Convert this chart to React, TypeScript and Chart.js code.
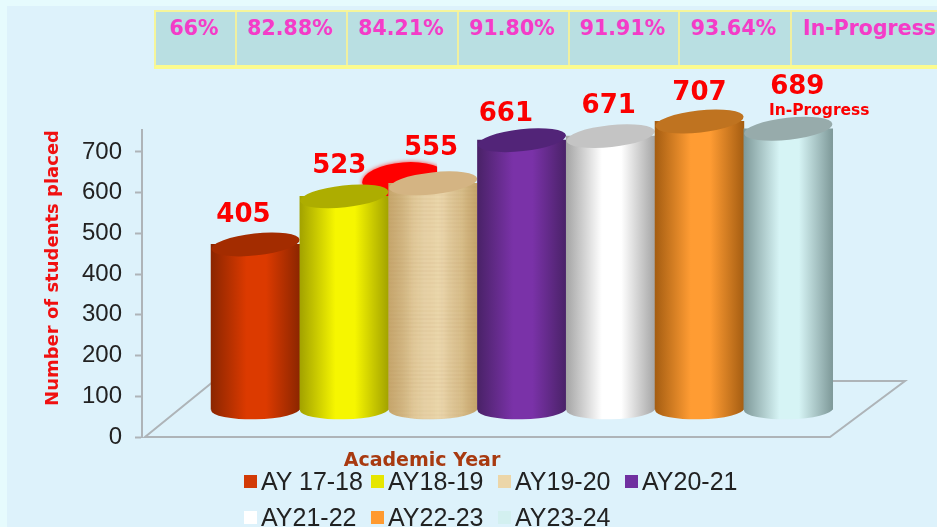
import React, { useEffect, useRef } from "react";
import Chart from "chart.js/auto";

const years = ["AY 17-18", "AY18-19", "AY19-20", "AY20-21", "AY21-22", "AY22-23", "AY23-24"];
const students = [405, 523, 555, 661, 671, 707, 689];
const placementRates = ["66%", "82.88%", "84.21%", "91.80%", "91.91%", "93.64%", "In-Progress"];
const yTicks = [0, 100, 200, 300, 400, 500, 600, 700];
const inProgressNote = "In-Progress";

const swatches = ["#d23a06", "#e6e600", "#ecd6a8", "#7030a0", "#ffffff", "#ff9a30", "#d3f0f0"];
const edgeShades = ["#8c2600", "#a3a300", "#c9a96f", "#4a2268", "#a6a6a6", "#a65e12", "#7f9a9a"];
const midShades = ["#dc3a00", "#f6f600", "#edd9ae", "#7a32a8", "#ffffff", "#ff9c33", "#d6f4f5"];
const capShades = ["#a32c00", "#adad00", "#d4b483", "#522478", "#c4c4c4", "#bf7320", "#97abab"];

const SANS = '"Liberation Sans", Arial, sans-serif';
const WIDE = '"DejaVu Sans", Verdana, sans-serif';
const colWidths = [81, 111, 111, 111, 110, 112, 147];
const labelShift = [[-12, -29], [-5, -30], [-2, -35], [-16, -26], [-2, -30], [0, -28], [9, -42]];

const cylinderPlugin = {
  id: "cylinders",
  beforeDatasetsDraw(chart: any) {
    const { ctx, chartArea: a } = chart;
    ctx.save();
    ctx.strokeStyle = "#aeb4b8";
    ctx.lineWidth = 2;
    ctx.beginPath();
    ctx.moveTo(a.left + 3, a.bottom);
    ctx.lineTo(a.right, a.bottom);
    ctx.lineTo(a.right + 75, a.bottom - 56);
    ctx.lineTo(a.left + 72, a.bottom - 56);
    ctx.closePath();
    ctx.stroke();
    ctx.restore();
  },
  beforeDatasetDraw(chart: any, args: any) {
    const { ctx } = chart;
    const els = chart.getDatasetMeta(args.index).data;
    const third = els[2];
    ctx.save();
    ctx.beginPath();
    ctx.rect(third.x - 90, third.y - 40, 94, 60);
    ctx.clip();
    ctx.fillStyle = "#ff0000";
    ctx.shadowColor = "#ff3030";
    ctx.shadowBlur = 4;
    ctx.beginPath();
    ctx.ellipse(third.x - 29, third.y - 4, 42, 17, -0.08, 0, Math.PI * 2);
    ctx.fill();
    ctx.restore();

    els.forEach((el: any, i: number) => {
      const rx = el.width / 2;
      const fill = el.options.backgroundColor;
      ctx.save();
      ctx.fillStyle = fill;
      ctx.beginPath();
      ctx.ellipse(el.x, el.base, rx, 10, -0.02, 0, Math.PI * 2);
      ctx.fill();
      ctx.restore();
      el.draw(ctx);
      if (i === 2) {
        ctx.save();
        ctx.beginPath();
        ctx.rect(el.x - rx, el.y, el.width, el.base - el.y);
        ctx.ellipse(el.x, el.base, rx, 10, -0.02, 0, Math.PI * 2);
        ctx.clip();
        ctx.lineWidth = 1;
        for (let x = Math.floor(el.x - rx); x < el.x + rx; x += 2) {
          ctx.strokeStyle = `rgba(150,110,55,${0.05 + 0.1 * Math.abs(Math.sin(x * 1.7))})`;
          ctx.beginPath();
          ctx.moveTo(x, el.y);
          ctx.lineTo(x, el.base + 11);
          ctx.stroke();
        }
        for (let y = Math.floor(el.y); y < el.base + 11; y += 4) {
          ctx.strokeStyle = `rgba(170,130,70,${0.04 + 0.08 * Math.abs(Math.sin(y * 2.3))})`;
          ctx.beginPath();
          ctx.moveTo(el.x - rx, y);
          ctx.lineTo(el.x + rx, y);
          ctx.stroke();
        }
        ctx.restore();
      }
      ctx.save();
      ctx.fillStyle = capShades[i];
      ctx.beginPath();
      ctx.ellipse(el.x, el.y, rx, 11, -0.11, 0, Math.PI * 2);
      ctx.fill();
      ctx.restore();
    });

    ctx.save();
    ctx.textAlign = "center";
    ctx.textBaseline = "middle";
    ctx.fillStyle = "#fb0000";
    ctx.font = `bold 26px ${WIDE}`;
    els.forEach((el: any, i: number) => {
      ctx.fillText(String(students[i]), el.x + labelShift[i][0], el.y + labelShift[i][1]);
    });
    const last = els[els.length - 1];
    ctx.font = `bold 15.5px ${WIDE}`;
    ctx.fillText(inProgressNote, last.x + 31, last.y - 18);
    ctx.fillStyle = "#a83a10";
    ctx.font = `bold 19px ${WIDE}`;
    ctx.fillText("Academic Year", 422, 461);
    ctx.restore();
    return false;
  },
};

export default function App() {
  const ref = useRef<HTMLCanvasElement>(null);
  useEffect(() => {
    document.body.style.margin = "0";
    const chart = new Chart(ref.current as HTMLCanvasElement, {
      type: "bar",
      plugins: [cylinderPlugin],
      data: {
        datasets: [
          {
            label: "Number of students placed",
            data: students.map((y, i) => ({ x: i + 1, y })),
            xAxisID: "x",
            yAxisID: "y2",
            barPercentage: 1,
            categoryPercentage: 1,
            borderWidth: 0,
            backgroundColor: (c: any) => {
              const i = c.dataIndex ?? 0;
              const cx = c.raw ? c.chart.scales.x?.getPixelForValue(c.raw.x) : NaN;
              if (!Number.isFinite(cx)) return swatches[i];
              const g = c.chart.ctx.createLinearGradient(cx - 44, 0, cx + 44, 0);
              g.addColorStop(0, edgeShades[i]);
              g.addColorStop(0.4, midShades[i]);
              g.addColorStop(0.62, midShades[i]);
              g.addColorStop(1, edgeShades[i]);
              return g;
            },
          },
        ],
      },
      options: {
        responsive: false,
        animation: false,
        events: [],
        layout: { padding: { left: 43, right: 107, top: 130, bottom: 90 } },
        plugins: { legend: { display: false }, tooltip: { enabled: false }, title: { display: false } },
        scales: {
          x: { type: "linear", display: false, offset: false, min: -0.278, max: 7.47 },
          y: {
            min: 0,
            max: 754,
            afterFit: (s: any) => {
              s.width = 99;
            },
            afterBuildTicks: (s: any) => {
              s.ticks = yTicks.map((value) => ({ value }));
            },
            title: {
              display: true,
              text: "Number of students placed",
              color: "#f01010",
              align: "end",
              padding: 0,
              font: { family: WIDE, size: 18, weight: "bold" },
            },
            border: { color: "#aeb4b8", width: 2 },
            grid: { drawOnChartArea: false, color: "#aeb4b8", tickLength: 7, tickWidth: 2 },
            ticks: {
              color: "#222222",
              padding: 13,
              font: { family: SANS, size: 24 },
            },
          },
          y2: { display: false, min: -68, max: 686 },
        },
      },
    } as any);
    return () => chart.destroy();
  }, []);

  return (
    <div style={{ position: "fixed", left: 0, top: 0, width: 937, height: 527, overflow: "hidden", background: "#e6fbfd" }}>
      <div style={{ position: "absolute", left: 7, top: 6, width: 930, height: 521, background: "#ddf2fb" }} />
      <div
        style={{
          position: "absolute",
          left: 154,
          top: 10,
          width: 783,
          height: 59,
          boxSizing: "border-box",
          display: "flex",
          background: "#b9dfe2",
          borderTop: "2px solid #f5f59a",
          borderLeft: "2px solid #f5f59a",
          borderBottom: "4px solid #fbfb8e",
        }}
      >
        {placementRates.map((r, i) => (
          <div
            key={r}
            style={{
              width: colWidths[i],
              boxSizing: "border-box",
              flex: "none",
              borderRight: i < placementRates.length - 1 ? "2px solid #f0f0a0" : "none",
              color: "#f43cc8",
              font: `bold 20.5px ${WIDE}`,
              textAlign: i === placementRates.length - 1 ? "left" : "center",
              paddingLeft: i === placementRates.length - 1 ? 11 : 0,
              paddingRight: i < placementRates.length - 1 ? 3 : 0,
              paddingTop: 4,
              whiteSpace: "nowrap",
            }}
          >
            {r}
          </div>
        ))}
      </div>
      <canvas ref={ref} width={937} height={527} style={{ position: "absolute", left: 0, top: 0, display: "block" }} />
      {years.map((y, i) => {
        const col = i < 4 ? i : i - 4;
        const left = [244, 371, 498, 625][col];
        const top = i < 4 ? 481 : 517;
        return (
          <div key={y} style={{ position: "absolute", left, top: top - 14, height: 28, display: "flex", alignItems: "center", whiteSpace: "nowrap" }}>
            <span style={{ width: 13, height: 13, background: swatches[i], display: "inline-block", marginRight: 4 }} />
            <span style={{ font: `25px ${SANS}`, color: "#222222" }}>{y}</span>
          </div>
        );
      })}
    </div>
  );
}
